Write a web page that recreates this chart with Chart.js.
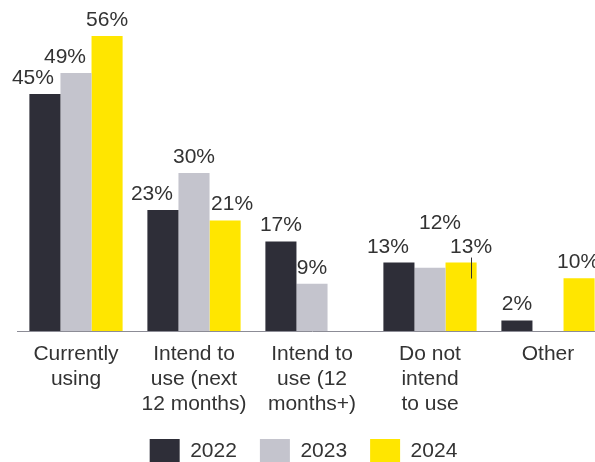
<!DOCTYPE html>
<html lang="en">
<head>
<meta charset="UTF-8">
<title>Usage by year</title>
<script src="https://cdn.jsdelivr.net/npm/chart.js@4.4.0/dist/chart.umd.min.js"></script>
<style>
  html, body { margin: 0; padding: 0; background: #fff; overflow: hidden; }
  #wrap { width: 595px; height: 462px; overflow: hidden; }
  canvas { display: block; }
</style>
</head>
<body>
<div id="wrap"><canvas id="usage" width="607" height="474"></canvas></div>
<script>
  // Categories (multi-line axis labels) and the three survey years
  const categories = [
    ['Currently', 'using'],
    ['Intend to', 'use (next', '12 months)'],
    ['Intend to', 'use (12', 'months+)'],
    ['Do not', 'intend', 'to use'],
    ['Other']
  ];
  const years = ['2022', '2023', '2024'];
  const values2022 = [45, 23, 17, 13, 2];
  const values2023 = [49, 30, 9, 12, null];
  const values2024 = [56, 21, null, 13, 10];

  const colors = ['#2e2e38', '#c4c4cd', '#ffe600'];
  const textColor = '#333333';
  const fontFamily = "'Liberation Sans', Arial, sans-serif";

  // small hand nudges for value labels: "dataset-category"
  const labelNudge = {
    '0-0': { dx: -12 }, '0-1': { dx: -11 }, '0-3': { dx: -11 },
    '1-0': { dx: -11 }, '1-3': { dx: 10, dy: -29 },
    '2-1': { dx: 7 }, '2-3': { dx: 10, leader: true }, '2-4': { dx: -1 }
  };

  // draws "45%" style labels above every bar
  const valueLabels = {
    id: 'valueLabels',
    afterDatasetsDraw(chart) {
      const ctx = chart.ctx;
      ctx.save();
      ctx.font = '21px ' + fontFamily;
      ctx.fillStyle = textColor;
      ctx.strokeStyle = textColor;
      ctx.textAlign = 'center';
      ctx.textBaseline = 'alphabetic';
      chart.data.datasets.forEach((ds, di) => {
        const meta = chart.getDatasetMeta(di);
        meta.data.forEach((bar, i) => {
          const v = ds.data[i];
          if (v === null || v === undefined) return;
          const n = labelNudge[di + '-' + i] || {};
          const x = bar.x + (n.dx || 0);
          const y = bar.y - 10 + (n.dy || 0);
          ctx.fillText(v + '%', x, y);
          if (n.leader) {
            ctx.lineWidth = 1;
            ctx.beginPath();
            ctx.moveTo(Math.round(x) + 0.5, bar.y - 5);
            ctx.lineTo(Math.round(x) + 0.5, bar.y + 16);
            ctx.stroke();
          }
        });
      });
      ctx.restore();
    }
  };

  const ctx = document.getElementById('usage').getContext('2d');
  new Chart(ctx, {
    type: 'bar',
    data: {
      labels: categories,
      datasets: [
        { label: years[0], data: values2022, backgroundColor: colors[0] },
        { label: years[1], data: values2023, backgroundColor: colors[1] },
        { label: years[2], data: values2024, backgroundColor: colors[2] }
      ]
    },
    options: {
      responsive: false,
      animation: false,
      devicePixelRatio: 1,
      categoryPercentage: 0.79,
      barPercentage: 1,
      layout: { padding: { left: 0, right: 0, top: 15, bottom: 0 } },
      plugins: {
        tooltip: { enabled: false },
        legend: {
          position: 'bottom',
          labels: {
            boxWidth: 30,
            boxHeight: 25,
            padding: 23,
            color: textColor,
            font: { family: fontFamily, size: 21 }
          }
        }
      },
      scales: {
        x: {
          grid: { display: false, drawTicks: false },
          border: { display: true, color: '#8c8c96', width: 1 },
          ticks: {
            color: textColor,
            font: { family: fontFamily, size: 21, lineHeight: 1.19 },
            padding: 11,
            maxRotation: 0,
            autoSkip: false
          },
          // pull the legend a little closer to the category labels
          afterFit(scale) { scale.height -= 12; }
        },
        y: {
          // hidden axis that only reserves the left margin
          min: 0,
          max: 60,
          grid: { display: false, drawTicks: false },
          border: { display: false },
          ticks: { display: false },
          afterFit(scale) { scale.width = 17; }
        }
      }
    },
    plugins: [valueLabels]
  });
</script>
</body>
</html>
